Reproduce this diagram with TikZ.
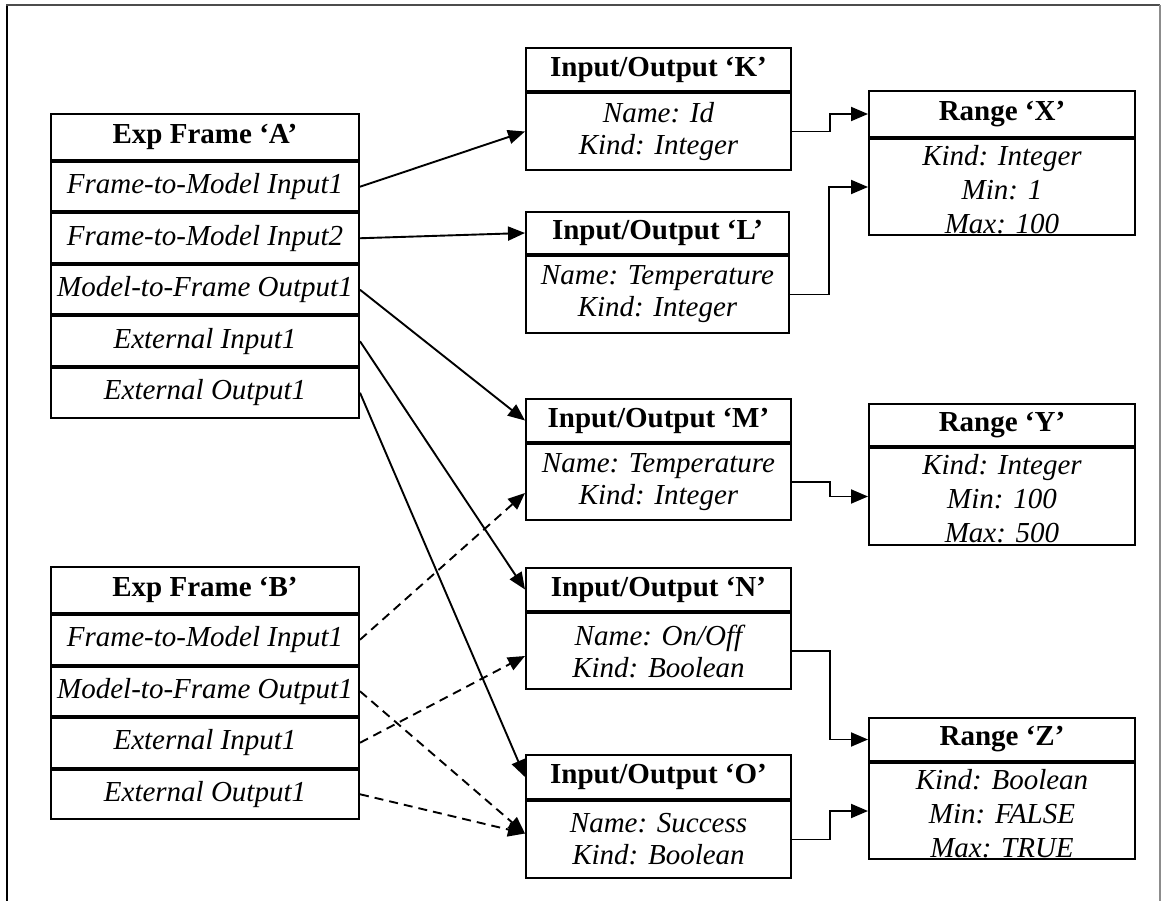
\documentclass[tikz,border=0pt]{standalone}
\usepackage{fontspec}
\setmainfont{Liberation Serif}
\usetikzlibrary{arrows.meta,calc}
\begin{document}
\begin{tikzpicture}[x=1pt,y=-1pt,
  cell/.style={draw, line width=2pt, inner sep=0pt, anchor=north west, align=center,
    font=\fontsize{29}{32}\selectfont\itshape},
  head/.style={cell, font=\fontsize{29}{32}\selectfont\bfseries},
  framerow/.style={cell, minimum width=308pt, minimum height=49.5pt},
  framehead/.style={head, minimum width=308pt, minimum height=46pt},
  iohead/.style={head, minimum width=265pt, minimum height=43pt},
  iobody/.style={cell, minimum width=265pt, minimum height=77pt},
  rghead/.style={head, minimum width=266pt},
  rgbody/.style={cell, minimum width=266pt, minimum height=96pt},
  rgtext/.style={inner sep=0pt, anchor=north, align=center, font=\fontsize{29}{34}\selectfont\itshape},
  arr/.style={line width=1.9pt, -{Triangle[length=17pt,width=14pt]}},
  darr/.style={arr, dash pattern=on 9pt off 6pt},
]
\useasboundingbox (0,0) rectangle (1162,901);
% outer frame
\draw[line width=2.7pt] (7,901) -- (7,4);
\draw[line width=1.8pt, black!70] (6,5) -- (1160,5);
\draw[line width=1.2pt, black!45] (1160,5) -- (1160,901);

% Exp Frame A
\node[framehead] (At) at (50,113) {Exp Frame ‘A’};
\node[framerow] (A1) at (At.south west) {Frame-to-Model Input1};
\node[framerow] (A2) at (A1.south west) {Frame-to-Model Input2};
\node[framerow] (A3) at (A2.south west) {Model-to-Frame Output1};
\node[framerow] (A4) at (A3.south west) {External Input1};
\node[framerow] (A5) at (A4.south west) {External Output1};

% Exp Frame B
\node[framehead] (Bt) at (50,566) {Exp Frame ‘B’};
\node[framerow] (B1) at (Bt.south west) {Frame-to-Model Input1};
\node[framerow] (B2) at (B1.south west) {Model-to-Frame Output1};
\node[framerow] (B3) at (B2.south west) {External Input1};
\node[framerow] (B4) at (B3.south west) {External Output1};

% Input/Output boxes
\node[iohead] (Kt) at (525,47) {Input/Output ‘K’};
\node[iobody] (Kb) at (Kt.south west) {Name: Id\\Kind: Integer};
\node[iohead, minimum width=263pt, minimum height=42pt] (Lt) at (525,211) {Input/Output ‘L’};
\node[iobody, minimum width=263pt] (Lb) at (Lt.south west) {Name: Temperature\\Kind: Integer};
\node[iohead] (Mt) at (525,398) {Input/Output ‘M’};
\node[iobody, minimum height=76pt] (Mb) at (Mt.south west) {Name: Temperature\\Kind: Integer};
\node[iohead] (Nt) at (525,567) {Input/Output ‘N’};
\node[iobody, minimum height=76pt] (Nb) at (Nt.south west) {Name: On/Off\\Kind: Boolean};
\node[iohead, minimum height=44pt] (Ot) at (525,754) {Input/Output ‘O’};
\node[iobody] (Ob) at (Ot.south west) {Name: Success\\Kind: Boolean};

% Range boxes
\node[rghead, minimum height=46pt] (Xt) at (868,90) {Range ‘X’};
\node[rgbody] (Xb) at (Xt.south west) {};
\node[rgtext] (Xv) at ($(Xb.north)+(0,7)$) {Kind: Integer\\Min: 1\\Max: 100};
\node[rghead, minimum height=42pt] (Yt) at (868,403) {Range ‘Y’};
\node[rgbody, minimum height=97pt] (Yb) at (Yt.south west) {};
\node[rgtext] (Yv) at ($(Yb.north)+(0,7)$) {Kind: Integer\\Min: 100\\Max: 500};
\node[rghead, minimum height=43pt] (Zt) at (868,717) {Range ‘Z’};
\node[rgbody] (Zb) at (Zt.south west) {};
\node[rgtext] (Zv) at ($(Zb.north)+(0,7)$) {Kind: Boolean\\Min: FALSE\\Max: TRUE};

% Frame A connectors
\draw[arr] (A1.east) -- (Kb.west);
\draw[arr] (A2.east) -- (Lt.west);
\draw[arr] (A3.east) -- (Mt.west);
\draw[arr] (A4.east) -- (Nt.west);
\draw[arr] (A5.east) -- (Ot.west);

% Frame B connectors
\draw[darr] (B1.east) -- ([yshift=-11pt]Mb.west);
\draw[darr] (B2.east) -- ([yshift=6pt]Ob.west);
\draw[darr] (B3.east) -- ([yshift=-5pt]Nb.west);
\draw[darr] (B4.east) -- ([yshift=6pt]Ob.west);

% to ranges
\draw[arr] (Kb.east) -| ($(Kb.east)!.5!(Xt.west)$) |- (Xt.west);
\draw[arr] (Lb.east) -| ($(Lb.east)!.5!(Xb.west)$) |- (Xb.west);
\draw[arr] (Mb.east) -| ($(Mb.east)!.5!(Yb.west)$) |- (Yb.west);
\draw[arr] (Nb.east) -| ($(Nb.east)!.5!(Zt.west)$) |- (Zt.west);
\draw[arr] (Ob.east) -| ($(Ob.east)!.5!(Zb.west)$) |- (Zb.west);
\end{tikzpicture}
\end{document}
